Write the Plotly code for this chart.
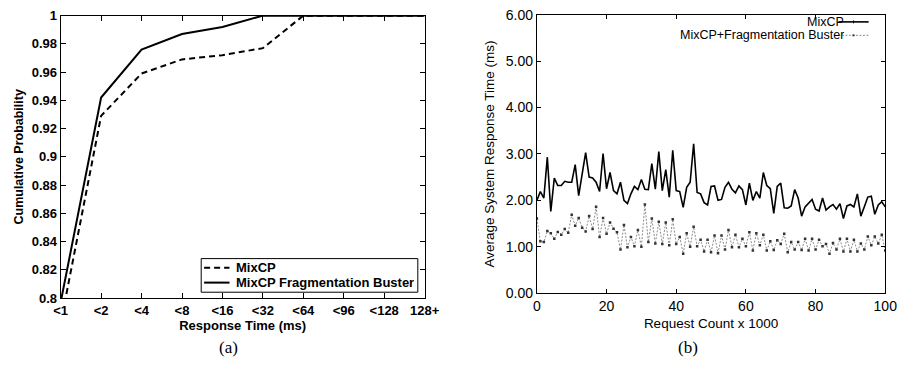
import plotly.graph_objects as go

# ---------- data: panel (a) ----------
categories = ["<1", "<2", "<4", "<8", "<16", "<32", "<64", "<96", "<128", "128+"]
cdf_mixcp = [0.782, 0.929, 0.959, 0.969, 0.972, 0.977, 1.0, 1.0, 1.0, 1.0]
cdf_buster = [0.797, 0.942, 0.976, 0.987, 0.992, 1.0, 1.0, 1.0, 1.0, 1.0]
a_ytickvals = [0.8, 0.82, 0.84, 0.86, 0.88, 0.9, 0.92, 0.94, 0.96, 0.98, 1.0]
a_yticktext = ["0.8", "0.82", "0.84", "0.86", "0.88", "0.9", "0.92", "0.94", "0.96", "0.98", "1"]
a_series_names = ["MixCP", "MixCP Fragmentation Buster"]

# ---------- data: panel (b) ----------
request_count = list(range(0, 101))
resp_mixcp = [
    2.00, 2.19, 2.05, 2.93, 1.76, 2.48, 2.32, 2.32, 2.41, 2.39,
    2.39, 2.77, 2.10, 2.62, 3.03, 2.50, 2.48, 2.39, 2.19, 3.01,
    2.25, 2.60, 2.21, 2.14, 2.39, 2.00, 1.93, 2.14, 2.30, 2.23,
    2.45, 2.24, 2.23, 2.79, 2.24, 3.05, 2.21, 2.66, 2.07, 3.08,
    2.21, 2.19, 1.85, 2.28, 2.39, 3.22, 2.17, 2.14, 1.95, 1.90,
    2.30, 2.31, 2.00, 2.02, 2.28, 2.39, 2.24, 2.16, 2.31, 2.23,
    1.90, 2.37, 2.00, 2.19, 2.05, 2.60, 2.32, 2.25, 1.72, 2.30,
    2.37, 1.84, 1.83, 1.88, 2.23, 2.05, 1.66, 1.86, 1.95, 2.02,
    1.81, 1.77, 2.05, 1.79, 1.86, 1.91, 1.81, 1.93, 1.61, 1.88,
    1.91, 1.86, 2.14, 1.66, 1.86, 2.07, 2.09, 1.70, 1.90, 1.97,
    1.86,
]
resp_buster = [
    1.61, 1.12, 1.10, 1.34, 1.29, 1.17, 1.32, 1.26, 1.38, 1.30,
    1.69, 1.45, 1.62, 1.41, 1.33, 1.66, 1.38, 1.86, 1.21, 1.62,
    1.28, 1.52, 1.39, 1.31, 0.94, 1.47, 0.99, 1.21, 1.01, 1.36,
    1.00, 1.91, 1.10, 1.61, 1.07, 1.54, 1.06, 1.52, 1.03, 1.59,
    1.06, 1.21, 0.85, 1.29, 1.00, 1.43, 1.01, 1.15, 0.90, 1.15,
    0.88, 1.24, 0.86, 1.24, 0.94, 1.36, 0.99, 1.26, 0.99, 1.17,
    1.01, 1.31, 0.92, 1.29, 1.03, 1.26, 0.92, 1.12, 0.93, 1.14,
    1.06, 1.28, 0.88, 1.10, 0.94, 1.10, 0.93, 1.17, 0.92, 1.17,
    0.94, 1.15, 1.01, 1.06, 0.85, 1.08, 0.94, 1.17, 0.90, 1.17,
    0.90, 1.15, 0.90, 1.07, 0.94, 1.22, 1.03, 1.22, 1.07, 1.26,
    0.92,
]
b_ytickvals = [0, 1, 2, 3, 4, 5, 6]
b_yticktext = ["0.00", "1.00", "2.00", "3.00", "4.00", "5.00", "6.00"]
b_xtickvals = [0, 20, 40, 60, 80, 100]
b_series_names = ["MixCP", "MixCP+Fragmentation Buster"]

W, H = 910, 378
def px(x):
    return x / W
def py(y):
    return 1 - y / H

FAM = "Arial, Liberation Sans, Helvetica, sans-serif"
bold = dict(family=FAM, size=13, color="black", weight="bold")
reg_tick = dict(family=FAM, size=14, color="black")
reg_title = dict(family=FAM, size=13.5, color="black")
reg_leg = dict(family=FAM, size=12.5, color="black")

A_DASH = dict(color="black", width=2, dash="6px,4px")
A_SOLID = dict(color="black", width=2)
B_SOLID = dict(color="black", width=1.6)
B_DOT = dict(color="#8c8c8c", width=1, dash="2px,1.5px")
B_MARK = "#333333"

fig = go.Figure()

# panel (a)
fig.add_trace(go.Scatter(x=categories, y=cdf_mixcp, mode="lines", name=a_series_names[0],
                         line=A_DASH, xaxis="x", yaxis="y", showlegend=False))
fig.add_trace(go.Scatter(x=categories, y=cdf_buster, mode="lines", name=a_series_names[1],
                         line=A_SOLID, xaxis="x", yaxis="y", showlegend=False))

# panel (b)
fig.add_trace(go.Scatter(x=request_count, y=resp_buster, mode="lines+markers",
                         name=b_series_names[1], showlegend=False, line=B_DOT,
                         marker=dict(color=B_MARK, size=2.5, symbol="square"),
                         xaxis="x2", yaxis="y2"))
fig.add_trace(go.Scatter(x=request_count, y=resp_mixcp, mode="lines",
                         name=b_series_names[0], showlegend=False, line=B_SOLID,
                         xaxis="x2", yaxis="y2"))

axis_common = dict(showline=True, linecolor="black", linewidth=1, mirror="ticks",
                   ticks="inside", tickcolor="black", showgrid=False, zeroline=False)

fig.update_layout(
    width=W, height=H, autosize=False,
    margin=dict(l=0, r=0, t=0, b=0),
    paper_bgcolor="white", plot_bgcolor="white",
    showlegend=False,
    xaxis=dict(domain=[px(55), px(428)], anchor="y", type="category",
               range=[0, 9], ticklen=5, tickfont=bold,
               title=dict(text="Response Time (ms)", font=bold, standoff=1),
               **axis_common),
    yaxis=dict(domain=[py(303), py(9)], anchor="x", range=[0.8, 1.0],
               tickvals=a_ytickvals, ticktext=a_yticktext,
               ticklen=5, tickfont=bold,
               title=dict(text="Cumulative Probability",
                          font=dict(bold, size=12.5), standoff=5),
               **axis_common),
    xaxis2=dict(domain=[px(543), px(900)], anchor="y2", range=[0, 100],
                tickvals=b_xtickvals, ticklen=4, tickfont=reg_tick,
                title=dict(text="Request Count x 1000", font=reg_title, standoff=5),
                **axis_common),
    yaxis2=dict(domain=[py(298), py(8)], anchor="x2", range=[0, 6],
                tickvals=b_ytickvals, ticktext=b_yticktext, ticklen=4, tickfont=reg_tick,
                title=dict(text="Average System Response Time (ms)", font=reg_title, standoff=8),
                **axis_common),
)

# legend box for panel (a)
fig.add_shape(type="rect", xref="paper", yref="paper",
              x0=px(199), x1=px(421), y0=py(297), y1=py(262),
              line=dict(color="black", width=1), fillcolor="white", layer="above")
for label, yy, ln in [(a_series_names[0], 271.5, A_DASH), (a_series_names[1], 287, A_SOLID)]:
    fig.add_shape(type="line", xref="paper", yref="paper", layer="above",
                  x0=px(202), x1=px(228), y0=py(yy), y1=py(yy), line=ln)
    fig.add_annotation(x=px(234), y=py(yy), xref="paper", yref="paper", text=label,
                       showarrow=False, xanchor="left", yanchor="middle",
                       font=bold, height=15, borderpad=0)

# legend for panel (b) (text left of sample line, gnuplot style)
for label, yy, ln, mk in [(b_series_names[0], 15.5, B_SOLID, None),
                          (b_series_names[1], 29.5, B_DOT, B_MARK)]:
    fig.add_annotation(x=px(859), y=py(yy), xref="paper", yref="paper",
                       text=label, showarrow=False, xanchor="right", yanchor="middle",
                       font=reg_leg, height=14, borderpad=0, valign="middle")
    fig.add_shape(type="line", xref="paper", yref="paper",
                  x0=px(852), x1=px(883), y0=py(yy), y1=py(yy), line=ln)
    if mk:
        fig.add_shape(type="rect", xref="paper", yref="paper",
                      x0=px(866.5), x1=px(868.5), y0=py(yy + 1), y1=py(yy - 1),
                      line=dict(width=0), fillcolor=mk)
    else:
        fig.add_shape(type="line", xref="paper", yref="paper",
                      x0=px(867.5), x1=px(867.5), y0=py(yy + 1.5), y1=py(yy - 1.5),
                      line=dict(color="black", width=1))

# captions
cap_font = dict(family="Liberation Serif, Times New Roman, serif", size=17, color="black")
fig.add_annotation(x=px(227), y=py(355), xref="paper", yref="paper", text="(a)",
                   showarrow=False, font=cap_font, xanchor="center", yanchor="middle")
fig.add_annotation(x=px(698), y=py(355), xref="paper", yref="paper", text="(b)",
                   showarrow=False, font=cap_font, xanchor="center", yanchor="middle")

fig.write_html("out.html")
